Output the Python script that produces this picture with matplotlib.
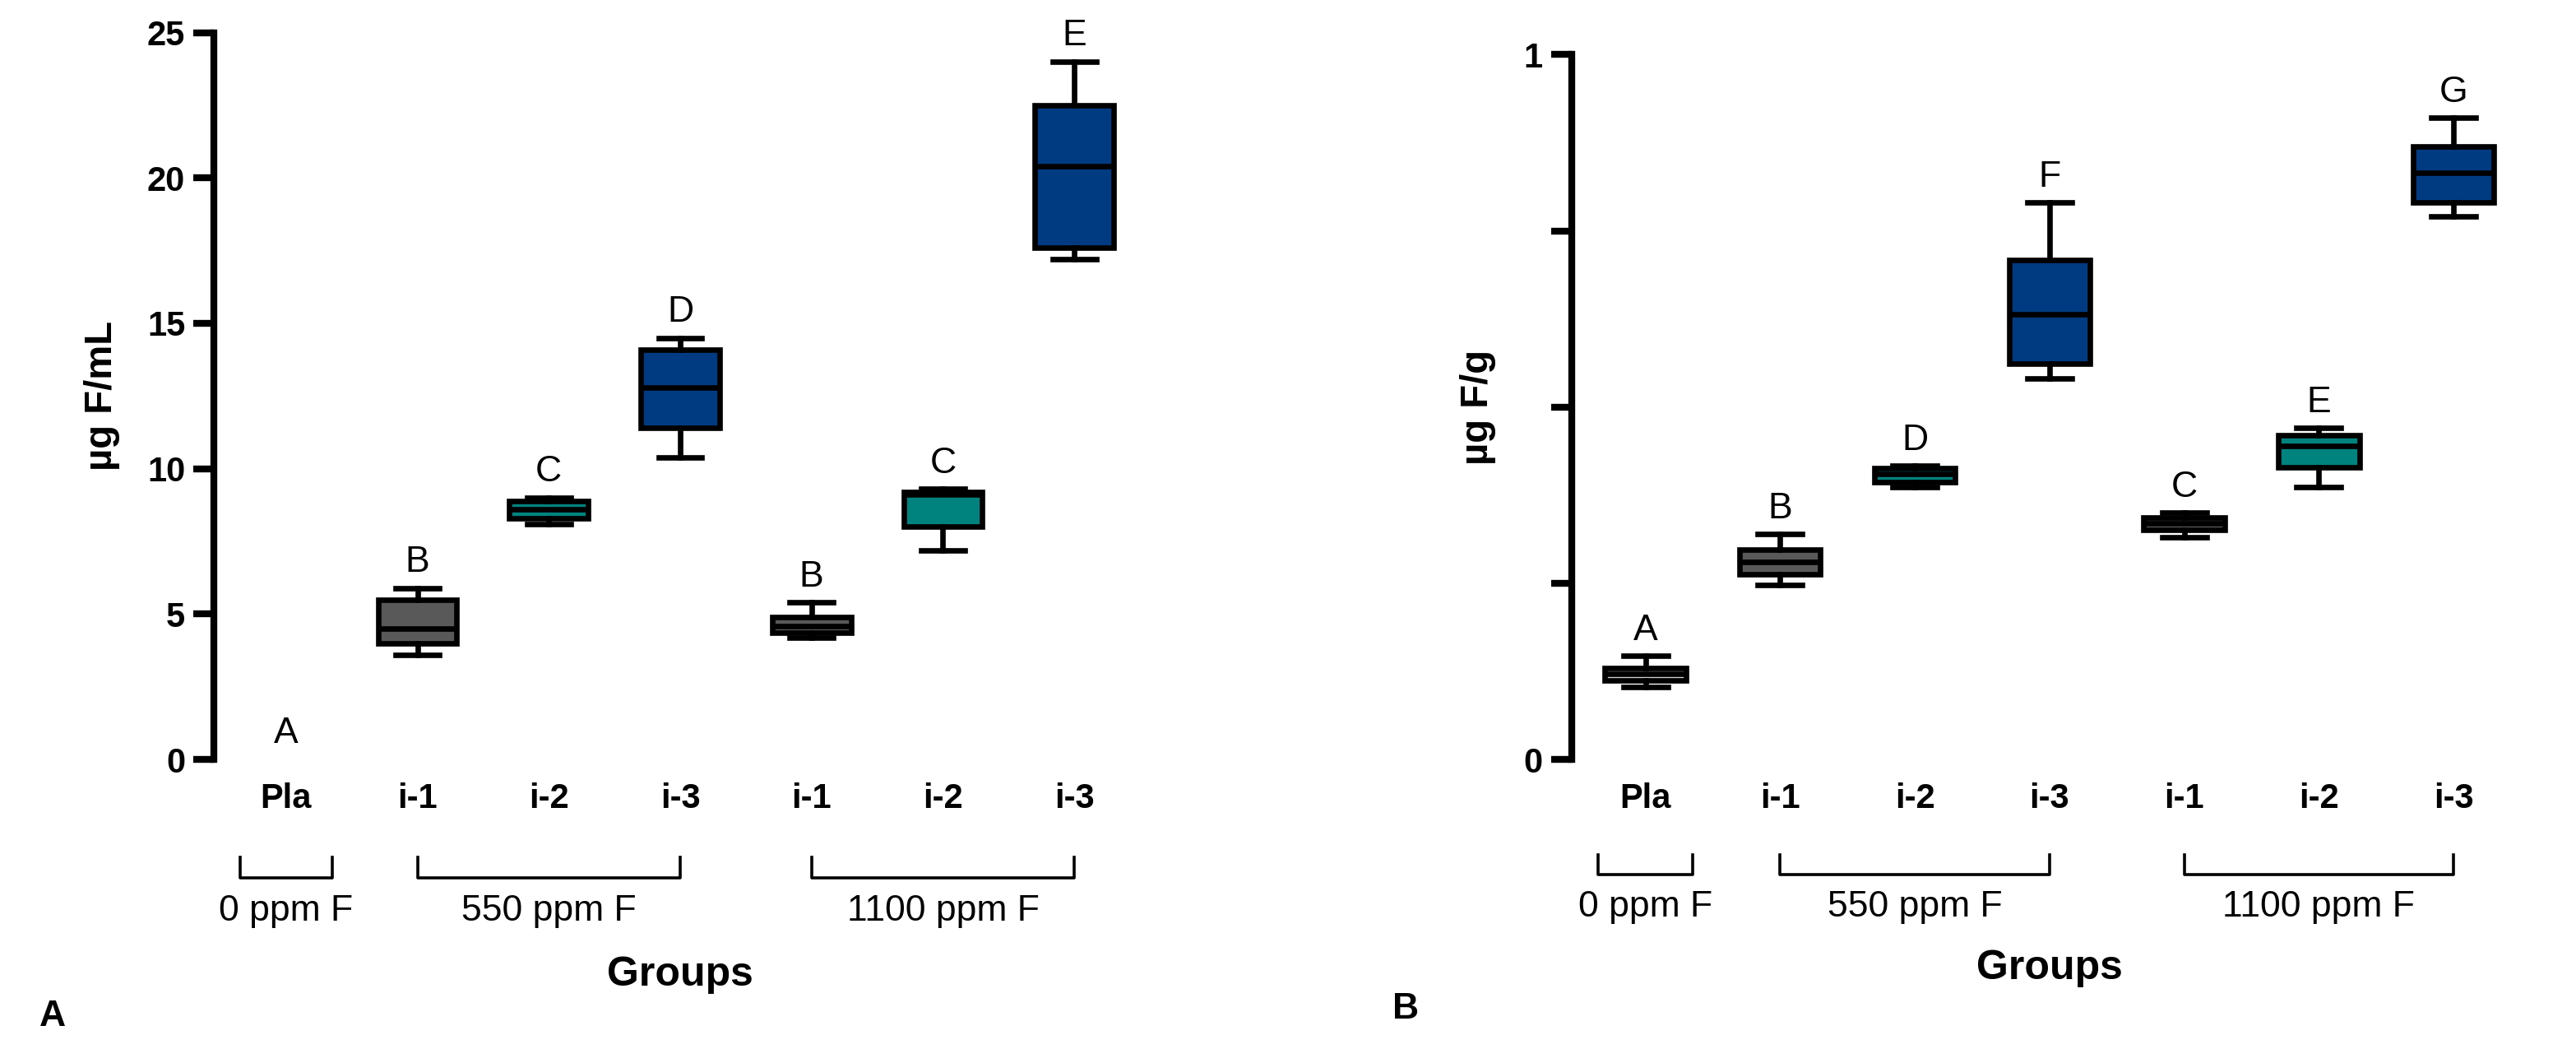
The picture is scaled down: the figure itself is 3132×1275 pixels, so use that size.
import numpy as np
import matplotlib
matplotlib.use("Agg")
import matplotlib.pyplot as plt
import matplotlib.transforms as mtransforms

plt.rcParams["font.family"] = ["Liberation Sans", "DejaVu Sans"]

groups = ["Pla", "i-1", "i-2", "i-3", "i-1", "i-2", "i-3"]
letters_a = ["A", "B", "C", "D", "B", "C", "E"]
letters_b = ["A", "B", "D", "F", "C", "E", "G"]

# whislo, q1, med, q3, whishi
stats_a = [
    [0.0, 0.0, 0.0, 0.0, 0.0],
    [3.6, 4.0, 4.5, 5.5, 5.9],
    [8.1, 8.3, 8.6, 8.9, 9.0],
    [10.4, 11.4, 12.8, 14.1, 14.5],
    [4.2, 4.35, 4.6, 4.9, 5.4],
    [7.2, 8.0, 9.1, 9.2, 9.3],
    [17.2, 17.6, 20.4, 22.5, 24.0],
]
stats_b = [
    [0.103, 0.112, 0.121, 0.130, 0.147],
    [0.247, 0.263, 0.280, 0.298, 0.320],
    [0.387, 0.394, 0.405, 0.413, 0.417],
    [0.540, 0.562, 0.632, 0.709, 0.790],
    [0.315, 0.326, 0.335, 0.343, 0.350],
    [0.387, 0.415, 0.445, 0.460, 0.470],
    [0.770, 0.790, 0.832, 0.870, 0.910],
]

colors_a = ["#d0d0d0", "#595959", "#00827f", "#003a80", "#595959", "#00827f", "#003a80"]
colors_b = ["#cfcfcf", "#595959", "#00827f", "#003a80", "#595959", "#00827f", "#003a80"]

brackets = [(0, 0, "0 ppm F"), (1, 3, "550 ppm F"), (4, 6, "1100 ppm F")]


def panel(ax, stats, colors, letters, ymax, ylabel, yticks, minor, tag):
    pos = np.arange(len(groups))
    bx = [dict(whislo=s[0], q1=s[1], med=s[2], q3=s[3], whishi=s[4], fliers=[]) for s in stats]
    art = ax.bxp(bx, positions=pos, widths=0.6, patch_artist=True, showfliers=False,
                 boxprops=dict(lw=2.4, edgecolor="black"), medianprops=dict(color="black", lw=2.4),
                 whiskerprops=dict(lw=2.4), capprops=dict(lw=2.4), capwidths=0.33)
    for p, c in zip(art["boxes"], colors):
        p.set_facecolor(c)
    # a box with zero spread is not drawn in the reference
    for i, s in enumerate(stats):
        if s[4] - s[0] == 0:
            art["boxes"][i].set_visible(False)
            art["medians"][i].set_visible(False)
            for a in art["whiskers"][2 * i:2 * i + 2] + art["caps"][2 * i:2 * i + 2]:
                a.set_visible(False)
    off = ymax * 0.012
    for x, s, l in zip(pos, stats, letters):
        ax.text(x, s[4] + off, l, ha="center", va="bottom", fontsize=16)
    ax.set_xlim(-0.55, 6.45)
    ax.set_ylim(0, ymax)
    ax.set_yticks(yticks)
    ax.set_yticklabels([f"{t:g}" for t in yticks], fontsize=15, fontweight="bold")
    if minor:
        ax.set_yticks(minor, minor=True)
        ax.tick_params(axis="y", which="minor", length=9, width=3)
    ax.tick_params(axis="y", which="major", length=9, width=3)
    ax.set_xticks(pos)
    ax.set_xticklabels(groups, fontsize=15, fontweight="bold")
    ax.tick_params(axis="x", length=0, pad=10)
    for sp in ["top", "right", "bottom"]:
        ax.spines[sp].set_visible(False)
    ax.spines["left"].set_linewidth(3)
    ax.set_ylabel(ylabel, fontsize=17, fontweight="bold", labelpad=12)
    tr = mtransforms.blended_transform_factory(ax.transData, ax.transAxes)
    for a, b, lab in brackets:
        x0, x1 = (a - 0.35, b + 0.35) if a == b else (a, b)
        ax.plot([x0, x0, x1, x1], [-0.135, -0.163, -0.163, -0.135], color="black", lw=1.3,
                transform=tr, clip_on=False)
        ax.text((a + b) / 2, -0.185, lab, transform=tr, ha="center", va="top", fontsize=16)
    ax.text(3, -0.27, "Groups", transform=tr, ha="center", va="top", fontsize=18, fontweight="bold")
    ax.text(-0.19, -0.33, tag, transform=ax.transAxes, ha="left", va="top", fontsize=16, fontweight="bold")


fig = plt.figure(figsize=(15.66, 6.375), dpi=200)
ax1 = fig.add_axes([0.083, 0.276, 0.357, 0.693])
ax2 = fig.add_axes([0.61, 0.276, 0.366, 0.672])
panel(ax1, stats_a, colors_a, letters_a, 25, "µg F/mL", [0, 5, 10, 15, 20, 25], None, "A")
panel(ax2, stats_b, colors_b, letters_b, 1, "µg F/g", [0, 1], [0.25, 0.5, 0.75], "B")
fig.savefig("out.png", dpi=200)
